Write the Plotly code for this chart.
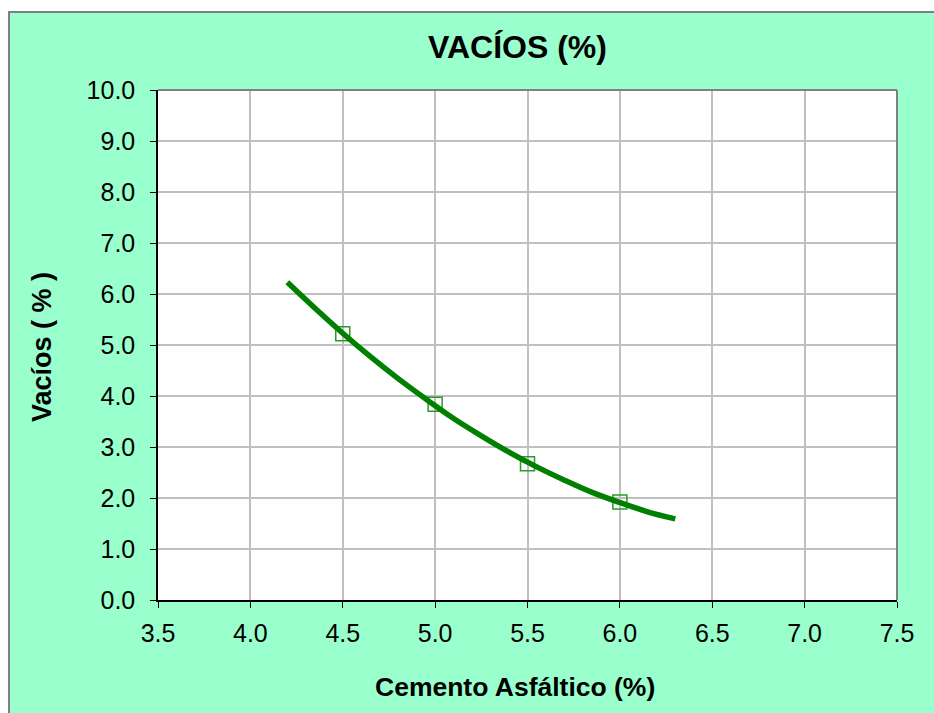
import plotly.graph_objects as go

# Data
asphalt_pct = [4.5, 5.0, 5.5, 6.0]
voids_pct = [5.22, 3.84, 2.67, 1.92]

# Trend curve
trend_x = [4.2, 4.35, 4.5, 4.65, 4.8, 4.95, 5.1, 5.25, 5.4, 5.55, 5.7, 5.85, 6.0, 6.15, 6.3]
trend_y = [6.23, 5.72, 5.23, 4.77, 4.34, 3.94, 3.56, 3.22, 2.90, 2.61, 2.35, 2.11, 1.91, 1.73, 1.59]

x_ticks = [3.5, 4.0, 4.5, 5.0, 5.5, 6.0, 6.5, 7.0, 7.5]
y_ticks = [0, 1, 2, 3, 4, 5, 6, 7, 8, 9, 10]

W, H = 934, 713
L, R, T, B = 158, 37, 90, 113
pw, ph = W - L - R, H - T - B

def px(x):
    return (x - L) / pw

def py(y):
    return (H - B - y) / ph

FONT = "Liberation Sans, Arial, sans-serif"

fig = go.Figure()
fig.add_trace(go.Scatter(
    x=asphalt_pct, y=voids_pct, mode="markers",
    marker=dict(symbol="square-open", size=14, color="#2A9A2A", line=dict(width=1.5, color="#2A9A2A")),
    showlegend=False,
))
fig.add_trace(go.Scatter(
    x=trend_x, y=trend_y, mode="lines",
    line=dict(color="#008000", width=5.5, shape="spline"),
    showlegend=False,
))

fig.update_layout(
    width=W, height=H,
    margin=dict(l=L, r=R, t=T, b=B),
    paper_bgcolor="white",
    plot_bgcolor="white",
    font=dict(family=FONT, color="black"),
    shapes=[
        dict(type="rect", xref="paper", yref="paper", layer="below",
             x0=px(9), x1=px(950), y0=py(730), y1=py(12),
             fillcolor="#99FFCC", line=dict(color="#7F7F7F", width=2)),
        dict(type="rect", xref="paper", yref="paper", layer="below",
             x0=0, x1=1, y0=0, y1=1,
             fillcolor="white", line=dict(width=0)),
        dict(type="line", xref="paper", yref="paper", x0=0, x1=1, y0=1, y1=1,
             line=dict(color="#808080", width=2)),
        dict(type="line", xref="paper", yref="paper", x0=1, x1=1, y0=0, y1=1,
             line=dict(color="#808080", width=2)),
    ],
    annotations=[
        dict(text="<b>VACÍOS (%)</b>", xref="paper", yref="paper", x=px(517), y=py(47),
             xanchor="center", yanchor="middle", showarrow=False, font=dict(size=32, family=FONT)),
        dict(text="<b>Cemento Asfáltico (%)</b>", xref="paper", yref="paper", x=px(515), y=py(687),
             xanchor="center", yanchor="middle", showarrow=False, font=dict(size=26.5, family=FONT)),
        dict(text="<b>Vacíos ( % )</b>", xref="paper", yref="paper", x=px(42), y=py(347),
             xanchor="center", yanchor="middle", showarrow=False, textangle=-90, font=dict(size=27, family=FONT)),
    ],
)
fig.update_xaxes(
    range=[3.5, 7.5], tickvals=x_ticks, ticktext=[f"{v:.1f}" for v in x_ticks],
    showgrid=True, gridcolor="#C0C0C0", gridwidth=1.5,
    showline=True, linecolor="black", linewidth=1.5,
    ticks="outside", ticklen=6, tickcolor="black", tickwidth=1,
    tickfont=dict(size=25, family=FONT), zeroline=False, ticklabelstandoff=4,
)
fig.update_yaxes(
    range=[0, 10], tickvals=y_ticks, ticktext=[f"{v:.1f}" for v in y_ticks],
    showgrid=True, gridcolor="#C0C0C0", gridwidth=1.5,
    showline=True, linecolor="black", linewidth=1.5,
    ticks="outside", ticklen=6, tickcolor="black", tickwidth=1,
    tickfont=dict(size=25, family=FONT), zeroline=False, ticklabelstandoff=10,
)

fig.write_html("out.html")
